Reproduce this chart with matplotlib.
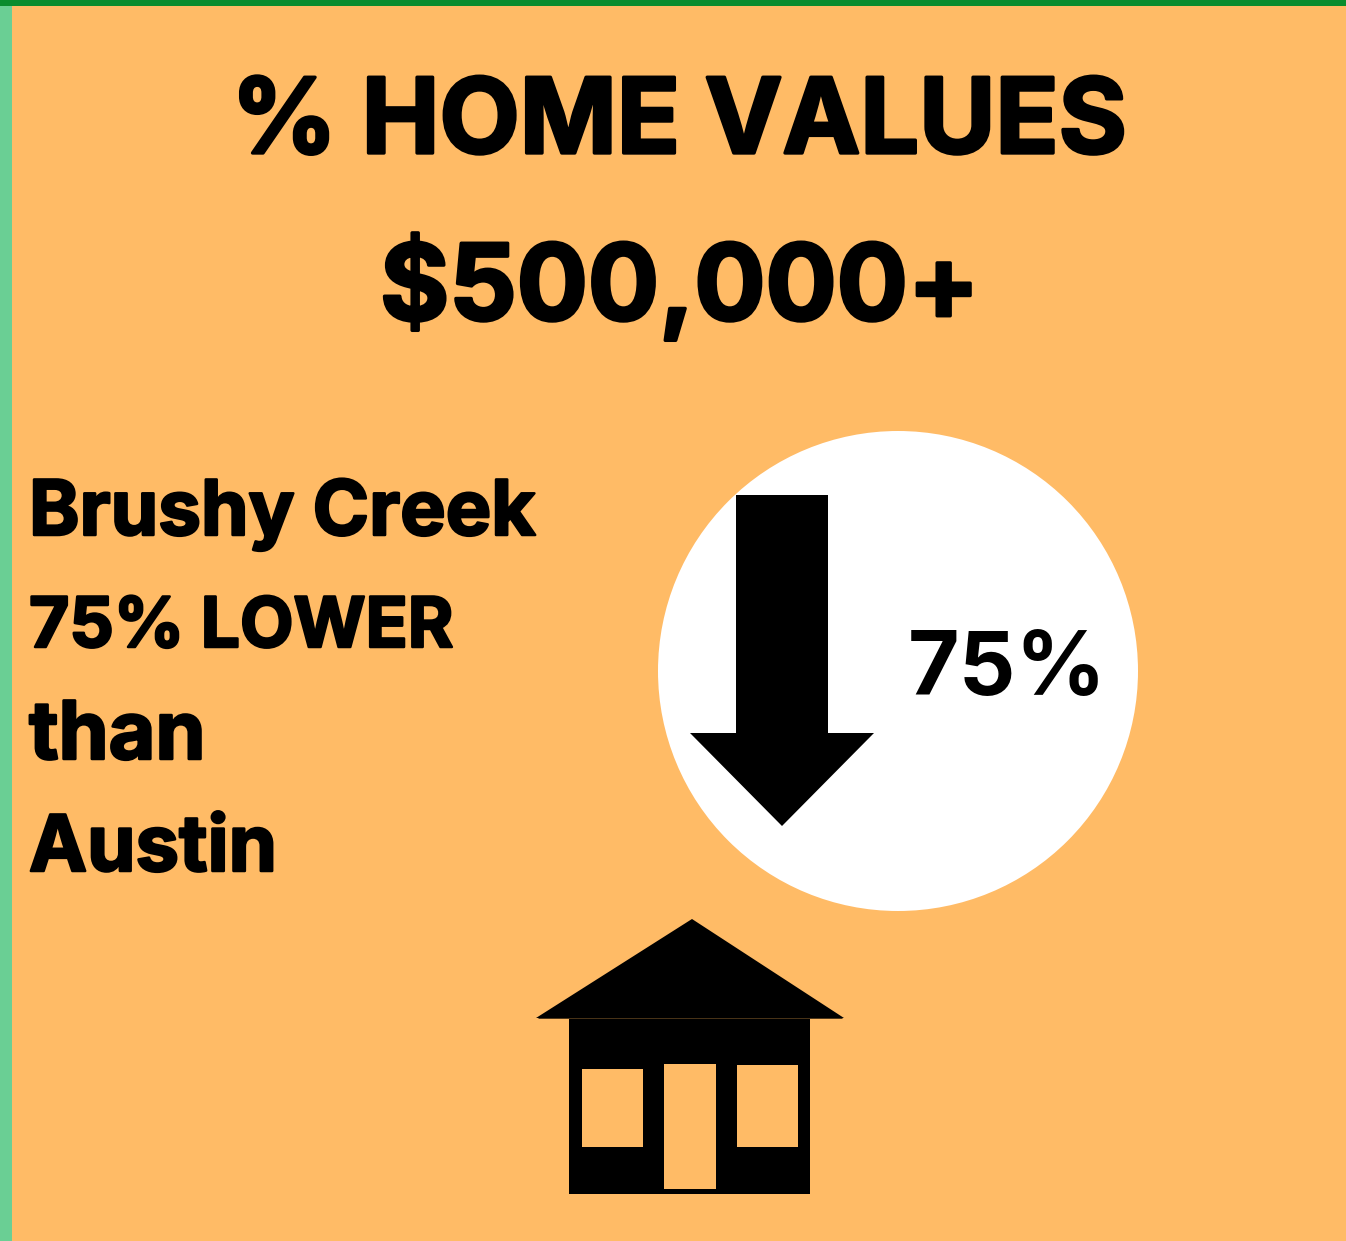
#!/usr/bin/env python3

import matplotlib
matplotlib.use("Agg")
import matplotlib.pyplot as plt
import matplotlib.patheffects as pe
from matplotlib.patches import Rectangle, Circle, Polygon

W, H = 1346, 1241

title_lines = ["% HOME VALUES", "$500,000+"]
side_lines = ["Brushy Creek", "75% LOWER", "than", "Austin"]
circle_label = "75%"

ORANGE = "#FFBB66"
TOP_GREEN = "#0A8C2E"
LEFT_GREEN = "#6ACF94"

plt.rcParams['font.family'] = ['Inter', 'DejaVu Sans']

fig = plt.figure(figsize=(W / 100, H / 100), dpi=100, facecolor=ORANGE)
ax = fig.add_axes([0, 0, 1, 1])
ax.set_xlim(0, W)
ax.set_ylim(H, 0)
ax.axis("off")

# page edges
ax.add_patch(Rectangle((0, 0), 12, H, fc=LEFT_GREEN, ec="none"))
ax.add_patch(Rectangle((0, 0), W, 6, fc=TOP_GREEN, ec="none"))

# the font is not heavy enough on its own
heavy = [pe.withStroke(linewidth=2.4, foreground="k")]
heavy_small = [pe.withStroke(linewidth=1.8, foreground="k")]

# heading
ax.text(679, 153, title_lines[0], fontsize=75, fontweight="bold", ha="center", va="baseline", color="k",
        path_effects=heavy)
ax.text(680, 320, title_lines[1], fontsize=76, fontweight="bold", ha="center", va="baseline", color="k",
        path_effects=heavy)

# left text block, sizes per line because the widths differ from the original font
for y, size, line in zip([535, 647, 759, 871], [55, 50, 58, 56], side_lines):
    ax.text(29, y, line, fontsize=size, fontweight="bold", ha="left", va="baseline", color="k",
            path_effects=heavy_small)

# circle with arrow
ax.add_patch(Circle((898, 671), 240, fc="white", ec="none"))
ax.add_patch(Polygon([(736, 495), (828, 495), (828, 733), (874, 733),
                      (782, 826), (690, 733), (736, 733)], fc="k", ec="none"))
ax.text(1007, 695, circle_label, fontsize=64, fontweight="bold", ha="center", va="baseline", color="k")

# house
ax.add_patch(Polygon([(536, 1018), (692, 919), (844, 1018)], fc="k", ec="none"))
ax.add_patch(Rectangle((569, 1018), 241, 176, fc="k", ec="none"))
ax.plot([538, 842], [1017.5, 1017.5], color="#4A3418", lw=0.7, solid_capstyle="butt")
ax.add_patch(Rectangle((582, 1069), 61, 78, fc=ORANGE, ec="none"))
ax.add_patch(Rectangle((664, 1064), 52, 125, fc=ORANGE, ec="none"))
ax.add_patch(Rectangle((737, 1065), 61, 82, fc=ORANGE, ec="none"))

fig.savefig("out.png", dpi=100, facecolor=fig.get_facecolor())
